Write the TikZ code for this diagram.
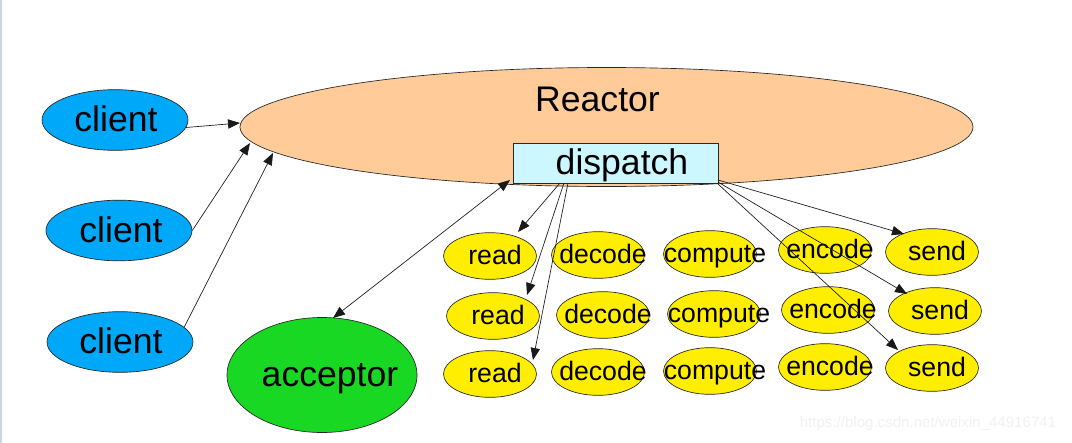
\documentclass[tikz,border=0pt]{standalone}
\usepackage{fontspec}
\setmainfont{Liberation Sans}
\usetikzlibrary{shapes.geometric,arrows.meta,calc}
\definecolor{cliblue}{RGB}{0,168,250}
\definecolor{reacpeach}{RGB}{255,204,153}
\definecolor{dispcyan}{RGB}{204,247,255}
\definecolor{accgreen}{RGB}{24,216,36}
\definecolor{jobyel}{RGB}{255,238,0}
\definecolor{wmgray}{RGB}{241,241,241}
\definecolor{edgegray}{RGB}{205,214,228}
\tikzset{
  ov/.style={ellipse, draw=black!85, line width=0.5pt, inner sep=0pt},
  cli/.style={ov, fill=cliblue, minimum width=109.5pt, minimum height=45.5pt},
  job/.style={ov, fill=jobyel, minimum width=69.75pt, minimum height=35pt},
  big/.style={font=\fontsize{26.7}{30}\selectfont, inner sep=0pt, anchor=base},
  small/.style={font=\fontsize{20}{24}\selectfont, inner sep=0pt, anchor=base},
  con/.style={line width=0.5pt, draw=black!90, -{Triangle[length=9pt,width=7pt]}},
  bicon/.style={line width=0.5pt, draw=black!90, {Triangle[length=9pt,width=7pt]}-{Triangle[length=9pt,width=7pt]}},
}
\begin{document}
\begin{tikzpicture}[x=0.75pt,y=-0.75pt]
\useasboundingbox (0,0) rectangle (1072,443);
\fill[white] (0,0) rectangle (1072,443);
\draw[edgegray, line width=1.5pt] (1,0) -- (1,443);
% watermark
\node[font=\fontsize{11.3}{13}\selectfont, text=wmgray, inner sep=0pt] (wm) at (928,424) {https://blog.csdn.net/weixin\_44916741};
% reactor
\node[ov, fill=reacpeach, minimum width=549.75pt, minimum height=89.25pt] (R) at (606.5,127) {};
\node[big] (Rt) at (597.5,111) {Reactor};
\node[draw=black!85, line width=0.5pt, fill=dispcyan, minimum width=153.75pt, minimum height=30pt, inner sep=0pt] (D) at (615.5,163) {};
\node[big] (Dt) at (622,174) {dispatch};
% clients
\node[cli] (cl1) at (115,120) {};
\node[big] (cl1t) at (116,131) {client};
\node[cli] (cl2) at (119,230.5) {};
\node[big] (cl2t) at (121,242) {client};
\node[cli] (cl3) at (120,342) {};
\node[big] (cl3t) at (121,353) {client};
% acceptor
\node[ov, fill=accgreen, minimum width=142.5pt, minimum height=86.25pt] (acc) at (322,375) {};
\node[big] (acct) at (330,386) {acceptor};
% job ellipses
\foreach \n/\x/\y/\t in {
  r1/490/256/read, d1/598/255/decode, c1/710/254/compute, e1/825/250/encode, s1/932/252/send,
  r2/493/316/read, d2/603/315/decode, c2/714/314/compute, e2/828/310/encode, s2/935/311/send,
  r3/490/374/read, d3/598/372/decode, c3/710/371/compute, e3/825/367/encode, s3/932/368/send}{
  \node[job] (\n) at (\x,\y) {};
  \node[small] (\n t) at ($(\n)+(5,8)$) {\t};
}
% connectors clients -> reactor
\coordinate (in1) at (240,123);
\coordinate (in2) at (250,143);
\coordinate (in3) at (273,153);
\draw[con] (cl1.-6) -- (in1);
\draw[con] (cl2.east) -- (in2);
\draw[con] (cl3.13) -- (in3);
% dispatch <-> acceptor
\coordinate (dA) at (510,180);
\coordinate (aT) at (333,318);
\draw[bicon] (aT) -- (dA);
% dispatch -> reads
\coordinate (dr1) at (560,183);
\coordinate (dr2) at (564,183);
\coordinate (dr3) at (568,183);
\coordinate (tr1) at (518,232);
\coordinate (tr2) at (527,295);
\coordinate (tr3) at (533,360);
\draw[con] (dr1) -- (tr1);
\draw[con] (dr2) -- (tr2);
\draw[con] (dr3) -- (tr3);
% dispatch -> sends
\coordinate (ds1) at (718,180);
\coordinate (ds2) at (718,182);
\coordinate (ds3) at (718,184);
\coordinate (ts1) at (904,234);
\coordinate (ts2) at (907,294);
\coordinate (ts3) at (898,350);
\draw[con] (ds1) -- (ts1);
\draw[con] (ds2) -- (ts2);
\draw[con] (ds3) -- (ts3);
\end{tikzpicture}
\end{document}
